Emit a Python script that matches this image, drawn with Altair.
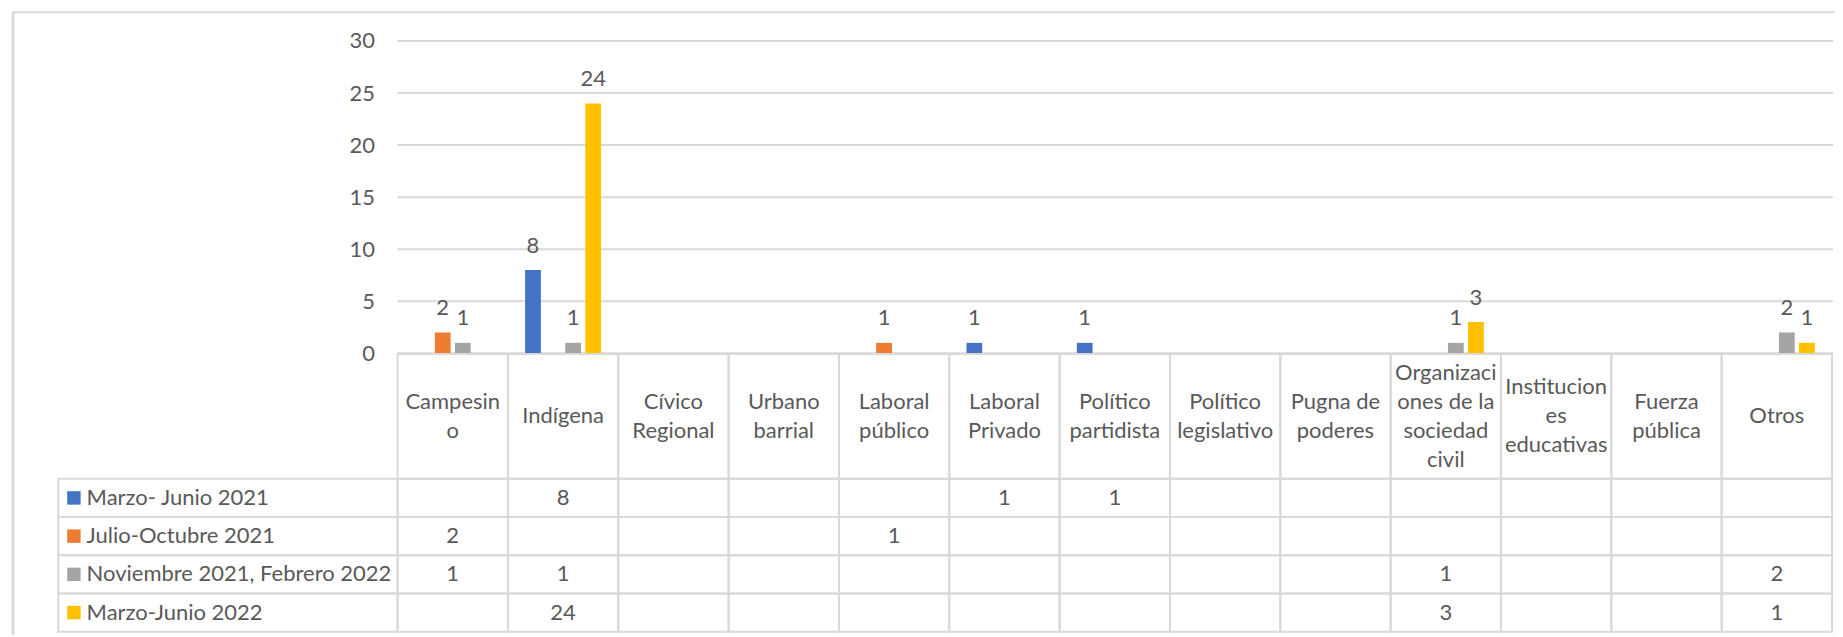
import altair as alt
import pandas as pd

# ---------------- data ----------------
CATEGORIES = ["Campesino", "Indígena", "Cívico Regional", "Urbano barrial",
              "Laboral público", "Laboral Privado", "Político partidista",
              "Político legislativo", "Pugna de poderes",
              "Organizaciones de la sociedad civil", "Instituciones educativas",
              "Fuerza pública", "Otros"]
HEADER_LABELS = ["Campesin\no", "Indígena", "Cívico\nRegional", "Urbano\nbarrial",
                 "Laboral\npúblico", "Laboral\nPrivado", "Político\npartidista",
                 "Político\nlegislativo", "Pugna de\npoderes",
                 "Organizaci\nones de la\nsociedad\ncivil", "Institucion\nes\neducativas",
                 "Fuerza\npública", "Otros"]
SERIES = ["Marzo- Junio 2021", "Julio-Octubre 2021",
          "Noviembre 2021, Febrero 2022", "Marzo-Junio 2022"]
COLORS = ["#4472C4", "#ED7D31", "#A5A5A5", "#FFC000"]
N = None
MARZO_JUNIO_2021 = [N, 8, N, N, N, 1, 1, N, N, N, N, N, N]
JULIO_OCTUBRE_2021 = [2, N, N, N, 1, N, N, N, N, N, N, N, N]
NOV_2021_FEB_2022 = [1, 1, N, N, N, N, N, N, N, 1, N, N, 2]
MARZO_JUNIO_2022 = [N, 24, N, N, N, N, N, N, N, 3, N, N, 1]
Y_TICKS = [0, 5, 10, 15, 20, 25, 30]

SERIES_VALUES = [MARZO_JUNIO_2021, JULIO_OCTUBRE_2021, NOV_2021_FEB_2022, MARZO_JUNIO_2022]

rows = []
for s, vals in zip(SERIES, SERIES_VALUES):
    for c, v in zip(CATEGORIES, vals):
        if v is not None:
            rows.append({"series": s, "category": c, "value": v})
df_vals = pd.DataFrame(rows)
df_cells = pd.DataFrame([{"series": s, "category": c} for s in SERIES for c in CATEGORIES])
df_cat = pd.DataFrame({"category": CATEGORIES, "label": HEADER_LABELS})
df_series = pd.DataFrame({"series": SERIES})
df_one = pd.DataFrame({"k": [0]})

# ---------------- styling / layout ----------------
FONT = "Lato"
FS = 22
TXT = "#595959"
LINE = "#d9d9d9"
W, H = 1829, 627
PLOT_X0, PLOT_X1 = 390, 1826
Y0, Y30 = 345.3, 32.7
HEAD_TOP, HEAD_BOT = 346, 471
ROW_BOT = 624
LEG_X0 = 50.3
LH = 29

xscale = alt.Scale(domain=CATEGORIES, range=[PLOT_X0, PLOT_X1], paddingInner=0, paddingOuter=0)
yscale = alt.Scale(domain=[0, 30], range=[Y0, Y30], nice=False, zero=True)
rowscale = alt.Scale(domain=SERIES, range=[HEAD_BOT, ROW_BOT], paddingInner=0, paddingOuter=0)
cscale = alt.Scale(domain=SERIES, range=COLORS)
xoff = alt.XOffset("series:N", scale=alt.Scale(domain=SERIES, paddingInner=0.214, paddingOuter=0.857))
yaxis = alt.Axis(values=Y_TICKS, grid=False, domain=False, ticks=False, labelFontSize=FS,
                 labelColor=TXT, labelPadding=23, offset=-PLOT_X0, title=None, labelFont=FONT)

grid = alt.Chart(pd.DataFrame({"value": Y_TICKS})).mark_rule(color=LINE, strokeWidth=2).encode(
    y=alt.Y("value:Q", scale=yscale, axis=yaxis),
    x=alt.value(PLOT_X0), x2=alt.value(PLOT_X1 + 1))

bars = alt.Chart(df_vals).mark_bar().encode(
    x=alt.X("category:N", scale=xscale, axis=None),
    xOffset=xoff,
    y=alt.Y("value:Q", scale=yscale, axis=yaxis),
    color=alt.Color("series:N", scale=cscale, legend=None))

labels = alt.Chart(df_vals).mark_text(dy=-17.5, baseline="alphabetic", fontSize=FS, color=TXT).encode(
    x=alt.X("category:N", scale=xscale, axis=None),
    xOffset=xoff,
    y=alt.Y("value:Q", scale=yscale, axis=yaxis),
    text="value:Q")

bar_group = alt.layer(grid, bars, labels)

# table
head_cells = alt.Chart(df_cat).mark_rect(fillOpacity=0, stroke=LINE, strokeWidth=2).encode(
    x=alt.X("category:N", scale=xscale, axis=None),
    y=alt.value(HEAD_TOP), y2=alt.value(HEAD_BOT))

head_mid = (HEAD_TOP + HEAD_BOT) / 2
head_texts = []
for n in (1, 2, 3, 4):
    head_texts.append(
        alt.Chart(df_cat).transform_calculate(
            lines="split(datum.label, '\\n')"
        ).transform_filter(
            f"length(datum.lines) == {n}"
        ).mark_text(fontSize=FS, lineHeight=LH, baseline="middle", color=TXT).encode(
            x=alt.X("category:N", scale=xscale, axis=None),
            y=alt.value(head_mid - (n - 1) * LH / 2),
            text="lines:N")
    )

cells = alt.Chart(df_cells).mark_rect(fillOpacity=0, stroke=LINE, strokeWidth=2).encode(
    x=alt.X("category:N", scale=xscale, axis=None),
    y=alt.Y("series:N", scale=rowscale, axis=None))

leg_cells = alt.Chart(df_series).mark_rect(fillOpacity=0, stroke=LINE, strokeWidth=2).encode(
    x=alt.value(LEG_X0), x2=alt.value(PLOT_X0),
    y=alt.Y("series:N", scale=rowscale, axis=None))

swatch = alt.Chart(df_series).mark_square(size=180, opacity=1).encode(
    x=alt.value(66),
    y=alt.Y("series:N", scale=rowscale, axis=None),
    color=alt.Color("series:N", scale=cscale, legend=None))

leg_text = alt.Chart(df_series).mark_text(align="left", baseline="middle", fontSize=FS, color=TXT).encode(
    x=alt.value(78.7),
    y=alt.Y("series:N", scale=rowscale, axis=None),
    text="series:N")

cell_text = alt.Chart(df_vals).mark_text(baseline="middle", fontSize=FS, color=TXT).encode(
    x=alt.X("category:N", scale=xscale, axis=None),
    y=alt.Y("series:N", scale=rowscale, axis=None),
    text="value:Q")

table_group = alt.layer(head_cells, *head_texts, cells, leg_cells, swatch, leg_text, cell_text)

border_top = alt.Chart(df_one).mark_rule(color=LINE, strokeWidth=2).encode(
    x=alt.value(5), x2=alt.value(W), y=alt.value(4))
border_left = alt.Chart(df_one).mark_rule(color=LINE, strokeWidth=3).encode(
    x=alt.value(5), y=alt.value(4), y2=alt.value(H))

chart = alt.layer(border_top, border_left, bar_group, table_group).resolve_scale(
    y="independent"
).properties(
    width=W, height=H, padding=0,
    autosize=alt.AutoSizeParams(type="none"),
).configure(font=FONT).configure_view(stroke="transparent")

chart.save("out.html", embed_options={"renderer": "svg", "actions": False})
